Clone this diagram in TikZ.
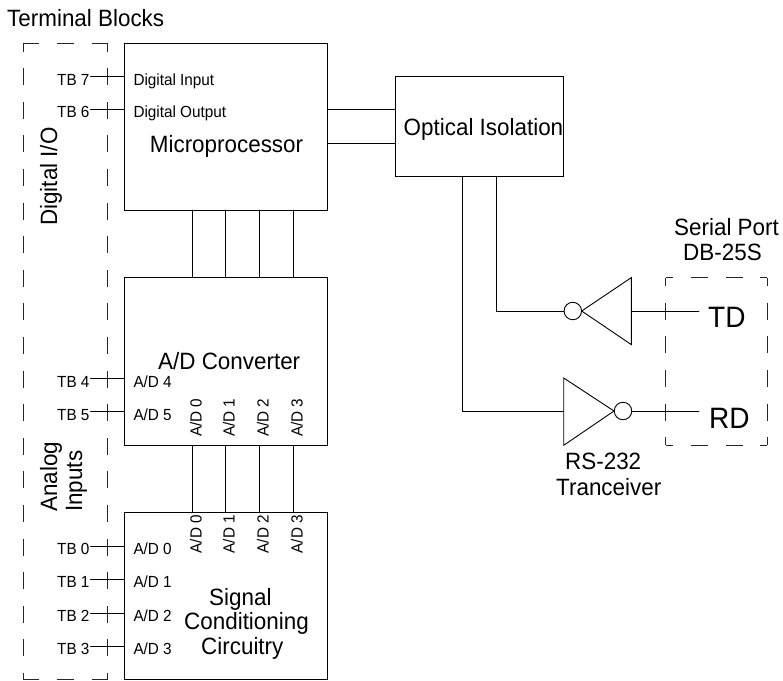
\documentclass[tikz,border=0pt]{standalone}
\usepackage{fontspec}
\setmainfont[FakeStretch=0.95]{Liberation Sans}
\begin{document}
\begin{tikzpicture}[x=1pt,y=-1pt,
  wire/.style={line width=0.9pt,black,line cap=round,line join=miter},
  block/.style={draw,line width=0.9pt,anchor=north west,inner sep=0pt,outer sep=0pt},
  dashline/.style={line width=0.9pt,black!85,dash pattern=on 17pt off 16.6pt,dash phase=8.5pt},
  dashtop/.style={line width=0.9pt,black!85,dash pattern=on 16.3pt off 18pt},
  dashport/.style={line width=0.9pt,black!85,dash pattern=on 17pt off 17.7pt,dash phase=9.5pt},
  small/.style={font=\fontsize{16.1}{16.1}\selectfont,inner sep=0pt,anchor=base west},
  big/.style={font=\fontsize{23.6}{23.6}\selectfont,inner sep=0pt,anchor=base west},
  huge/.style={font=\fontsize{29.5}{29.5}\selectfont,inner sep=0pt,anchor=base west},
  bubble/.style={circle,draw,line width=0.9pt,minimum size=17.5pt,inner sep=0pt,outer sep=0pt}]
\useasboundingbox (0,0) rectangle (783,680);
% blocks
\node[block,minimum width=203pt,minimum height=167pt] (micro) at (124.3,43) {};
\node[block,minimum width=203pt,minimum height=168pt] (adc) at (124.3,277.3) {};
\node[block,minimum width=203pt,minimum height=167pt] (sig) at (124.3,512.3) {};
\node[block,minimum width=168.5pt,minimum height=100.7pt] (opt) at (395.2,76) {};
% dashed terminal block outline
\coordinate (lA) at (23,43); \coordinate (lB) at (107.5,43);
\coordinate (lC) at (107.5,679); \coordinate (lD) at (23,679);
\draw[dashtop] (lA) -- (lB);
\draw[dashtop] (lD) -- (lC);
\draw[dashline] (lA) -- (lD);
\draw[dashline] (lB) -- (lC);
% dashed serial port outline
\coordinate (pA) at (665.7,277.6); \coordinate (pB) at (767,277.6);
\coordinate (pC) at (767,445.3); \coordinate (pD) at (665.7,445.3);
\draw[dashport] (pA) -- (pB);
\draw[dashport] (pD) -- (pC);
\draw[dashline] (pA) -- (pD);
\draw[dashline] (pB) -- (pC);
% texts
\node[small] (t7) at (57,85) {TB 7};
\node[small] (t6) at (57,117.5) {TB 6};
\node[small] (t4) at (57,387) {TB 4};
\node[small] (t5) at (57,420) {TB 5};
\node[small] (t0) at (57,554) {TB 0};
\node[small] (t1) at (57,587.5) {TB 1};
\node[small] (t2) at (57,621) {TB 2};
\node[small] (t3) at (57,654.5) {TB 3};
\node[small] (ldi) at (133.3,85) {Digital Input};
\node[small] (ldo) at (133.3,117.5) {Digital Output};
\node[small] (la4) at (133.3,387) {A/D 4};
\node[small] (la5) at (133.3,420) {A/D 5};
\node[small] (ls0) at (133.3,554) {A/D 0};
\node[small] (ls1) at (133.3,587.5) {A/D 1};
\node[small] (ls2) at (133.3,621) {A/D 2};
\node[small] (ls3) at (133.3,654.5) {A/D 3};
\node[small,rotate=90] (ra0) at (201.5,437) {A/D 0};
\node[small,rotate=90] (ra1) at (234.5,437) {A/D 1};
\node[small,rotate=90] (ra2) at (268.5,437) {A/D 2};
\node[small,rotate=90] (ra3) at (302.5,437) {A/D 3};
\node[small,rotate=90] (rs0) at (201.5,553.5) {A/D 0};
\node[small,rotate=90] (rs1) at (234.5,553.5) {A/D 1};
\node[small,rotate=90] (rs2) at (268.5,553.5) {A/D 2};
\node[small,rotate=90] (rs3) at (302.5,553.5) {A/D 3};
\node[big] (title) at (7,26) {Terminal Blocks};
\node[big] (lmicro) at (149.7,152.5) {Microprocessor};
\node[big] (ladc) at (158,369) {A/D Converter};
\node[big] (lsa) at (209,605) {Signal};
\node[big] (lsb) at (184,629.5) {Conditioning};
\node[big] (lsc) at (201,654) {Circuitry};
\node[big] (lopt) at (403.5,135) {Optical Isolation};
\node[big] (lser) at (674,235) {Serial Port};
\node[big] (ldb) at (683,260) {DB-25S};
\node[big] (lrs) at (565,469) {RS-232};
\node[big] (ltr) at (556,495) {Tranceiver};
\node[big,rotate=90] (ldig) at (57,226) {Digital I/O};
\node[big,rotate=90] (lana) at (57,512) {Analog};
\node[big,rotate=90] (linp) at (82,512) {Inputs};
\node[huge] (ltd) at (708,327) {TD};
\node[huge] (lrd) at (709,428) {RD};
% terminal wires
\foreach \n/\y/\b in {7/76.3/micro,6/109.3/micro,4/378.3/adc,5/411.3/adc,0/546/sig,1/579.3/sig,2/613/sig,3/646.3/sig}{
  \coordinate (s\n) at (90.5,\y);
  \draw[wire] (s\n) -- (\b.west |- s\n);
}
% buses
\foreach \n/\x in {a/192,b/225.8,c/259.5,d/293.3}{
  \coordinate (bus\n) at (\x,300);
  \draw[wire] (micro.south -| bus\n) -- (adc.north -| bus\n);
  \draw[wire] (adc.south -| bus\n) -- (sig.north -| bus\n);
}
% micro to optical
\coordinate (yA) at (340,109.3); \coordinate (yB) at (340,143);
\draw[wire] (micro.east |- yA) -- (opt.west |- yA);
\draw[wire] (micro.east |- yB) -- (opt.west |- yB);
% inverters
\node[bubble] (btd) at (572.8,311) {};
\node[bubble] (brd) at (623,411) {};
\coordinate (td1) at (581.7,311); \coordinate (td2) at (631.3,277.6); \coordinate (td3) at (631.3,344.6);
\coordinate (rd1) at (614,411); \coordinate (rd2) at (563.7,378); \coordinate (rd3) at (563.7,445.3);
\draw[wire,line join=miter] (td1) -- (td2) -- (td3) -- cycle;
\draw[wire,line join=miter] (rd1) -- (rd2) -- (rd3) -- cycle;
\coordinate (xB) at (496.8,311); \coordinate (xA) at (462.7,411);
\coordinate (tdend) at (699,311); \coordinate (rdend) at (699,411);
\draw[wire] (opt.south -| xB) -- (xB) -- (btd.west);
\draw[wire] (opt.south -| xA) -- (xA) -- (rd2 |- xA);
\draw[wire] (631.3,311) -- (tdend);
\draw[wire] (brd.east) -- (rdend);
\end{tikzpicture}
\end{document}
